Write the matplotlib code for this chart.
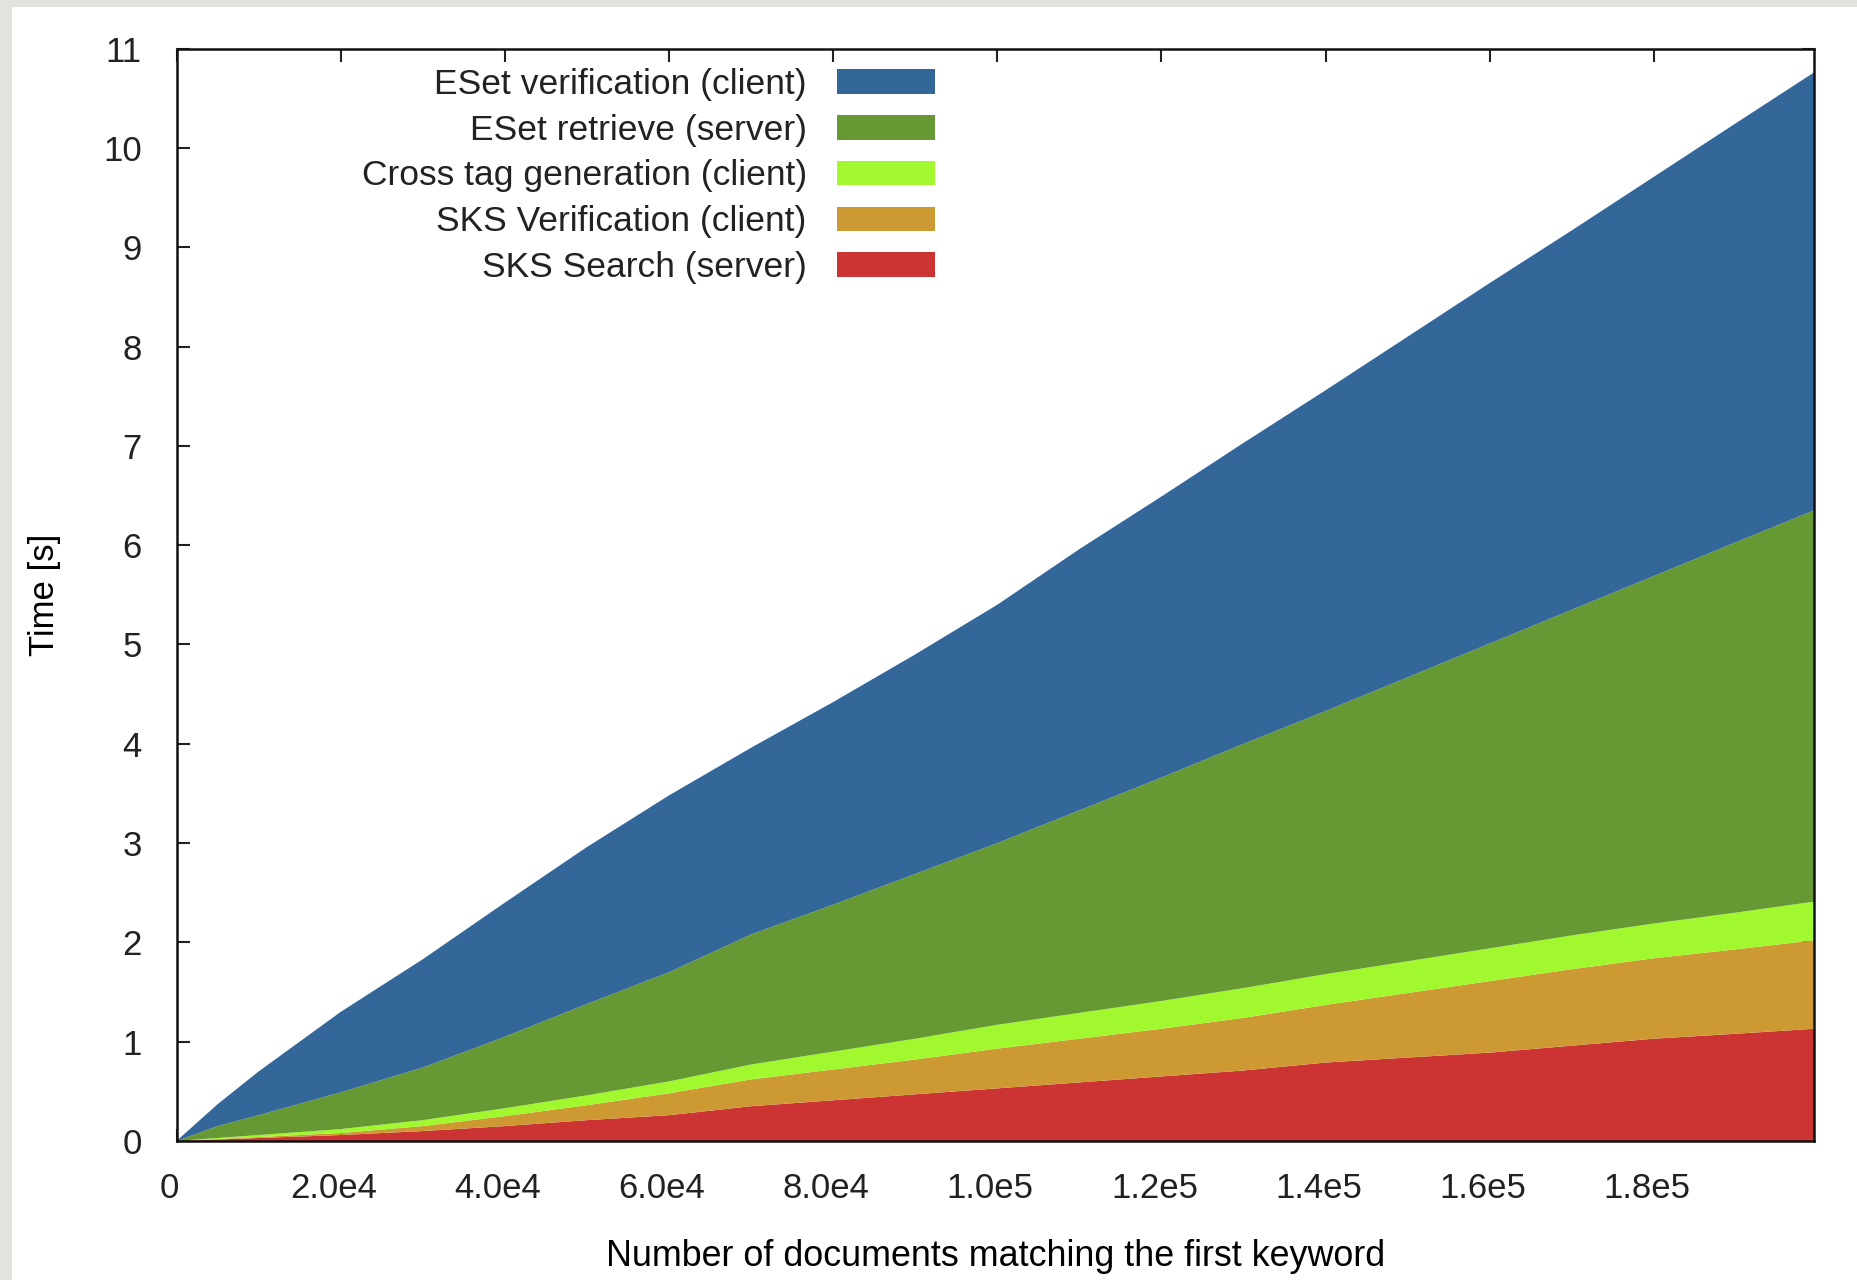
import matplotlib.pyplot as plt
from matplotlib.patches import Rectangle
from matplotlib.transforms import ScaledTranslation

# number of documents matching the first keyword
docs = [0, 5000, 10000, 20000, 30000, 40000, 50000, 60000, 70000, 80000, 90000,
        100000, 110000, 120000, 130000, 140000, 150000, 160000, 170000, 180000,
        190000, 199500]

# time per phase [s], bottom to top of the stack
sks_search = [0, .015, .03, .06, .10, .15, .21, .26, .35, .41, .47, .53, .59, .65,
              .71, .79, .84, .89, .96, 1.03, 1.08, 1.13]
sks_verif = [0, .005, .01, .02, .05, .10, .15, .22, .27, .31, .35, .40, .44, .48,
             .53, .58, .65, .72, .77, .81, .85, .89]
xtag_gen = [0, .01, .02, .04, .06, .08, .10, .12, .15, .18, .21, .24, .26, .28,
            .30, .31, .32, .33, .34, .35, .37, .39]
eset_retr = [0, .12, .20, .37, .53, .72, .92, 1.10, 1.31, 1.48, 1.66, 1.83, 2.04,
             2.25, 2.46, 2.65, 2.86, 3.07, 3.28, 3.50, 3.73, 3.94]
eset_verif = [0, .22, .44, .81, 1.09, 1.35, 1.58, 1.78, 1.88, 2.04, 2.21, 2.40, 2.63,
              2.83, 3.03, 3.23, 3.43, 3.63, 3.82, 4.02, 4.22, 4.41]

labels = ['SKS Search (server)', 'SKS Verification (client)',
          'Cross tag generation (client)', 'ESet retrieve (server)',
          'ESet verification (client)']
colors = ['#cc3333', '#cc9933', '#a2f82f', '#669933', '#336699']

xticks = [0, 20000, 40000, 60000, 80000, 100000, 120000, 140000, 160000, 180000]
xticklabels = ['0', '2.0e4', '4.0e4', '6.0e4', '8.0e4', '1.0e5', '1.2e5', '1.4e5',
               '1.6e5', '1.8e5']

plt.rcParams['font.family'] = ['Liberation Sans', 'DejaVu Sans']
plt.rcParams['text.color'] = '#222222'

fig = plt.figure(figsize=(18.58, 12.80), dpi=100, facecolor='#e4e2dd')
fig.patches.append(Rectangle((12 / 1858, 0), 1, 1 - 7 / 1280, transform=fig.transFigure,
                             facecolor='white', edgecolor='none', zorder=-5))
ax = fig.add_axes([0.095, 0.1086, 0.8813, 0.8534])
ax.set_facecolor('none')

polys = ax.stackplot(docs, sks_search, sks_verif, xtag_gen, eset_retr, eset_verif,
                     colors=colors, labels=labels, linewidth=0)

ax.set_xlim(0, 199500)
ax.set_ylim(0, 11)
ax.set_xticks(xticks)
ax.set_xticklabels(xticklabels)
ax.set_yticks(range(12))
ax.set_axisbelow(True)
ax.tick_params(direction='in', length=9, width=1.5, top=True, right=True,
               labelsize=25, colors='#222222')
ax.tick_params(axis='y', pad=25)
ax.tick_params(axis='x', pad=22)
shift = ScaledTranslation(-7 / 100, 0, fig.dpi_scale_trans)
for lab in ax.get_xticklabels():
    lab.set_transform(lab.get_transform() + shift)
for s in ax.spines.values():
    s.set_linewidth(1.8)
    s.set_color('#111111')

ax.set_xlabel('Number of documents matching the first keyword', fontsize=25.8, labelpad=25)
ax.set_ylabel('Time [s]', fontsize=25, labelpad=30)

handles = polys[::-1]
ax.legend(handles, labels[::-1], loc='upper right', bbox_to_anchor=(935 / 1858, 1 - 68 / 1280),
          bbox_transform=fig.transFigure, frameon=False, markerfirst=False,
          fontsize=25.5, handlelength=2.77, handleheight=0.68, handletextpad=0.85,
          labelspacing=0.36, borderpad=0, borderaxespad=0)

fig.savefig('out.png', dpi=100, facecolor=fig.get_facecolor())
